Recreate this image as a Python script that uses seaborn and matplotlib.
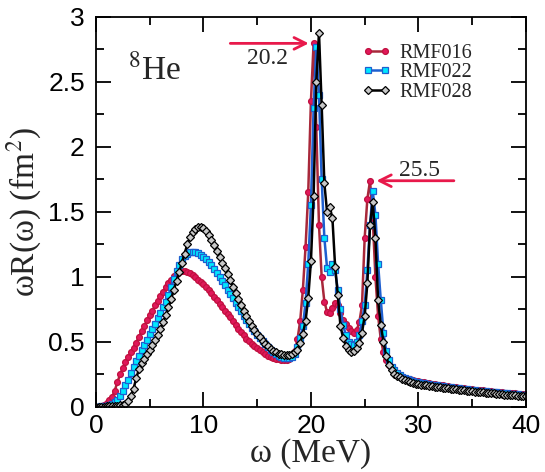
import numpy as np
import pandas as pd
import matplotlib
matplotlib.use("Agg")
import matplotlib.pyplot as plt
from matplotlib.ticker import MultipleLocator, FuncFormatter
import seaborn as sns

# ---------------- data ----------------
omega = np.arange(0, 40.001, 0.25)

rmf016 = [
    0.0, 0.002, 0.008, 0.018, 0.032, 0.05, 0.075, 0.125,
    0.19, 0.25, 0.30, 0.345, 0.385, 0.42, 0.455, 0.495,
    0.54, 0.58, 0.62, 0.665, 0.705, 0.74, 0.78, 0.815,
    0.85, 0.885, 0.92, 0.95, 0.98, 1.005, 1.025, 1.038,
    1.045, 1.045, 1.04, 1.03, 1.015, 0.998, 0.98, 0.963,
    0.945, 0.925, 0.90, 0.875, 0.848, 0.82, 0.79, 0.765,
    0.74, 0.715, 0.69, 0.66, 0.63, 0.60, 0.575, 0.55,
    0.525, 0.505, 0.485, 0.465, 0.45, 0.435, 0.42, 0.405,
    0.395, 0.385, 0.377, 0.37, 0.365, 0.362, 0.36, 0.362,
    0.37, 0.39, 0.43, 0.52, 0.66, 0.90, 1.23, 1.65,
    2.35, 2.80, 2.15, 1.40, 1.00, 0.81, 0.73, 0.72,
    0.76, 0.80, 0.78, 0.72, 0.67, 0.635, 0.61, 0.585,
    0.57, 0.59, 0.65, 0.78, 1.30, 1.60, 1.74, 1.45,
    1.00, 0.70, 0.52, 0.42, 0.36, 0.32, 0.29, 0.27,
    0.255, 0.243, 0.233, 0.225, 0.218, 0.212, 0.206, 0.201,
    0.196, 0.192, 0.188, 0.184, 0.180, 0.177, 0.174, 0.171,
    0.168, 0.165, 0.162, 0.159, 0.156, 0.153, 0.150, 0.147,
    0.145, 0.142, 0.140, 0.137, 0.135, 0.132, 0.130, 0.128,
    0.126, 0.124, 0.122, 0.120, 0.118, 0.116, 0.114, 0.112,
    0.110, 0.108, 0.107, 0.105, 0.103, 0.102, 0.100, 0.099,
    0.097,
]

rmf022 = [
    0.0, 0.001, 0.003, 0.006, 0.01, 0.015, 0.022, 0.035,
    0.055, 0.08, 0.12, 0.165, 0.21, 0.26, 0.305, 0.35,
    0.395, 0.435, 0.475, 0.515, 0.56, 0.60, 0.64, 0.68,
    0.72, 0.765, 0.81, 0.86, 0.92, 0.985, 1.045, 1.095,
    1.135, 1.163, 1.18, 1.19, 1.192, 1.19, 1.182, 1.17,
    1.155, 1.135, 1.115, 1.09, 1.06, 1.03, 1.0, 0.97,
    0.935, 0.90, 0.87, 0.835, 0.80, 0.765, 0.735, 0.70,
    0.67, 0.64, 0.61, 0.585, 0.555, 0.53, 0.505, 0.485,
    0.46, 0.44, 0.425, 0.41, 0.395, 0.385, 0.377, 0.373,
    0.375, 0.385, 0.41, 0.46, 0.53, 0.62, 0.80, 1.10,
    1.55, 2.30, 2.77, 2.40, 1.75, 1.30, 1.07, 1.04,
    1.10, 1.05, 0.90, 0.75, 0.63, 0.55, 0.50, 0.48,
    0.475, 0.50, 0.55, 0.66, 0.78, 1.05, 1.40, 1.66,
    1.48, 1.10, 0.82, 0.57, 0.43, 0.36, 0.31, 0.28,
    0.26, 0.245, 0.232, 0.222, 0.213, 0.206, 0.2, 0.194,
    0.188, 0.184, 0.180, 0.177, 0.174, 0.171, 0.168, 0.165,
    0.162, 0.159, 0.156, 0.153, 0.150, 0.147, 0.145, 0.142,
    0.140, 0.137, 0.135, 0.132, 0.130, 0.128, 0.125, 0.123,
    0.121, 0.119, 0.117, 0.115, 0.113, 0.111, 0.109, 0.107,
    0.105, 0.104, 0.102, 0.100, 0.099, 0.097, 0.095, 0.094,
    0.092,
]

rmf028 = [
    0.0, 0.0, 0.001, 0.002, 0.003, 0.004, 0.005, 0.007,
    0.009, 0.012, 0.016, 0.025, 0.045, 0.085, 0.14, 0.22,
    0.29, 0.335, 0.37, 0.405, 0.44, 0.475, 0.515, 0.555,
    0.60, 0.65, 0.705, 0.765, 0.83, 0.90, 0.97, 1.04,
    1.11, 1.18, 1.25, 1.305, 1.345, 1.37, 1.382, 1.385,
    1.375, 1.355, 1.325, 1.285, 1.245, 1.20, 1.155, 1.11,
    1.065, 1.02, 0.975, 0.925, 0.875, 0.83, 0.785, 0.74,
    0.70, 0.66, 0.625, 0.59, 0.56, 0.535, 0.51, 0.485,
    0.465, 0.447, 0.432, 0.42, 0.41, 0.403, 0.40, 0.40,
    0.402, 0.408, 0.42, 0.44, 0.49, 0.56, 0.66, 0.84,
    1.12, 1.62, 2.50, 2.88, 2.32, 1.72, 1.50, 1.54,
    1.45, 1.08, 0.86, 0.62, 0.53, 0.47, 0.435, 0.425,
    0.43, 0.455, 0.49, 0.57, 0.70, 0.95, 1.40, 1.58,
    1.30, 0.82, 0.63, 0.50, 0.39, 0.32, 0.28, 0.255,
    0.24, 0.228, 0.216, 0.206, 0.198, 0.191, 0.185, 0.179,
    0.174, 0.171, 0.168, 0.165, 0.162, 0.159, 0.156, 0.153,
    0.150, 0.147, 0.145, 0.142, 0.139, 0.137, 0.134, 0.132,
    0.129, 0.127, 0.124, 0.122, 0.120, 0.118, 0.115, 0.113,
    0.111, 0.109, 0.107, 0.105, 0.103, 0.101, 0.099, 0.097,
    0.095, 0.093, 0.091, 0.089, 0.088, 0.086, 0.084, 0.083,
    0.081,
]

series_names = ["RMF016", "RMF022", "RMF028"]
peak_labels = ["20.2", "25.5"]
x_ticks = [0, 10, 20, 30, 40]
y_ticks = [0, 0.5, 1, 1.5, 2, 2.5, 3]

# ---------------- style ----------------
sns.set_theme(style="ticks")
plt.rcParams["font.family"] = ["Liberation Sans", "DejaVu Sans"]
plt.rcParams["mathtext.fontset"] = "stix"
serif = ["Liberation Serif", "DejaVu Serif"]

fig = plt.figure(figsize=(5.45, 4.72), dpi=100)
ax = fig.add_axes([0.176, 0.138, 0.789, 0.826])

styles = [
    dict(color="#a8283a", marker="o", markerfacecolor="#e0185a", markeredgecolor="#c0103f"),
    dict(color="#1e5fcf", marker="s", markerfacecolor="#00e8ff", markeredgecolor="#1e5fcf"),
    dict(color="#000000", marker="D", markerfacecolor="#c8c8c8", markeredgecolor="#000000"),
]
sizes = [4.2, 3.9, 3.7]

for name, vals, st, ms in zip(series_names, [rmf016, rmf022, rmf028], styles, sizes):
    df = pd.DataFrame({"omega": omega, "R": vals})
    sns.lineplot(data=df, x="omega", y="R", ax=ax, label=name, linewidth=1.8,
                 markersize=ms, markeredgewidth=0.9, **st)

ax.set_xlim(0, 40)
ax.set_ylim(0, 3)
ax.xaxis.set_minor_locator(MultipleLocator(5))
ax.yaxis.set_minor_locator(MultipleLocator(0.25))
ax.set_xticks(x_ticks)
ax.set_yticks(y_ticks)
fmt = FuncFormatter(lambda v, p: f"{v:g}")
ax.xaxis.set_major_formatter(fmt)
ax.yaxis.set_major_formatter(fmt)
ax.tick_params(which="both", direction="in", top=True, right=True, width=1.3, colors="black")
ax.tick_params(which="major", length=11, labelsize=19, pad=5)
ax.tick_params(which="minor", length=6)
ax.tick_params(axis="y", which="major", pad=8)
for sp in ax.spines.values():
    sp.set_linewidth(1.3)
    sp.set_color("black")

ax.set_xlabel("ω (MeV)", fontsize=24, family=serif, labelpad=0)
ax.set_ylabel(r"ωR(ω) (fm$^2$)", fontsize=24, family=serif, labelpad=3)

ax.text(3.0, 2.52, r"$^{8}$He", fontsize=24, family=serif)

arrow_color = "#e8194b"
ax.annotate("", xy=(19.8, 2.797), xytext=(12.5, 2.797),
            arrowprops=dict(arrowstyle="->,head_length=0.7,head_width=0.35", color=arrow_color,
                            lw=2, shrinkA=0, shrinkB=0))
ax.text(16.0, 2.68, peak_labels[0], fontsize=17, ha="center", va="center", family=serif)
ax.annotate("", xy=(26.1, 1.74), xytext=(33.3, 1.74),
            arrowprops=dict(arrowstyle="->,head_length=0.7,head_width=0.35", color=arrow_color,
                            lw=2, shrinkA=0, shrinkB=0))
ax.text(30.1, 1.82, peak_labels[1], fontsize=17, ha="center", va="center", family=serif)

ax.legend(loc="upper left", bbox_to_anchor=(0.619, 0.93), frameon=False, numpoints=2,
          handlelength=1.45, handletextpad=0.4, labelspacing=0.0, borderpad=0,
          borderaxespad=0, prop={"family": "Liberation Serif", "size": 14.5})

fig.savefig("out.png", dpi=100)
